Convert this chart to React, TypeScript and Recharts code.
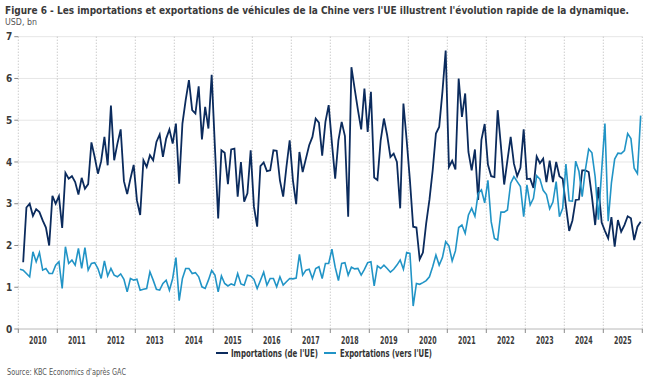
import { LineChart, Line, XAxis, YAxis, CartesianGrid } from 'recharts'

// Monthly values, USD bn, one row per year (Jan..Dec)
const years = [2010, 2011, 2012, 2013, 2014, 2015, 2016, 2017, 2018, 2019, 2020, 2021, 2022, 2023, 2024, 2025]

const imports: (number | null)[][] = [
  [null, 1.6, 2.91, 3.0, 2.71, 2.87, 2.8, 2.6, 2.43, 2.0, 3.19, 3.0],
  [3.18, 2.42, 3.74, 3.6, 3.66, 3.52, 3.22, 3.62, 3.36, 3.47, 4.47, 4.12],
  [3.72, 4.02, 4.6, 3.92, 5.35, 4.04, 4.44, 4.78, 3.54, 3.23, 3.6, 3.93],
  [3.08, 2.73, 4.04, 3.88, 4.16, 4.04, 4.48, 4.66, 4.12, 4.56, 4.78, 4.44],
  [4.92, 3.48, 4.92, 5.48, 5.96, 5.24, 5.16, 5.81, 4.54, 5.32, 4.8, 6.09],
  [4.35, 2.65, 4.28, 4.22, 3.47, 4.3, 4.32, 3.17, 4.0, 3.05, 3.25, 4.28],
  [2.93, 2.45, 3.9, 3.99, 3.78, 3.8, 4.28, 4.27, 3.56, 3.17, 3.88, 4.52],
  [3.56, 2.99, 4.24, 3.76, 4.08, 4.4, 4.6, 5.04, 4.94, 4.15, 4.96, 5.36],
  [4.45, 3.6, 4.52, 4.96, 4.62, 2.69, 6.27, 5.75, 5.25, 4.78, 5.76, 4.72],
  [5.68, 3.63, 3.57, 4.52, 5.04, 4.64, 4.12, 4.2, 4.0, 2.89, 5.4, 4.52],
  [3.56, 2.45, 2.43, 1.67, 1.83, 2.53, 3.09, 3.8, 4.68, 4.84, 5.68, 6.67],
  [3.88, 4.03, 3.82, 6.0, 5.08, 5.64, 4.24, 3.8, 4.3, 3.09, 4.53, 4.91],
  [3.94, 3.66, 3.64, 5.24, 4.38, 3.46, 4.04, 4.6, 3.96, 3.66, 3.86, 4.78],
  [3.59, 3.6, 3.38, 4.13, 3.97, 4.08, 3.52, 4.03, 3.52, 4.0, 3.66, 3.6],
  [2.95, 2.35, 2.6, 3.09, 3.1, 3.8, 3.8, 3.76, 3.17, 2.49, 3.4, 2.55],
  [2.35, 2.17, 2.68, 1.97, 2.61, 2.33, 2.49, 2.7, 2.65, 2.13, 2.45, 2.57],
]

const exportsEU: number[][] = [
  [1.43, 1.41, 1.33, 1.25, 1.85, 1.61, 1.83, 1.41, 1.45, 1.33, 1.33, 1.53],
  [1.61, 0.97, 1.97, 1.57, 1.65, 1.53, 1.93, 1.45, 1.95, 1.41, 1.57, 1.59],
  [1.45, 1.21, 1.63, 1.27, 1.45, 1.29, 1.25, 1.32, 1.19, 0.89, 1.21, 1.17],
  [1.19, 0.93, 0.95, 0.97, 1.37, 1.17, 0.95, 0.93, 1.09, 1.17, 0.93, 1.21],
  [1.71, 0.68, 1.21, 1.45, 1.45, 1.33, 1.35, 1.25, 1.01, 0.97, 1.17, 1.4],
  [1.29, 0.89, 1.27, 1.09, 1.03, 1.08, 1.05, 1.33, 1.08, 1.05, 1.29, 1.27],
  [1.19, 0.97, 1.16, 1.36, 1.05, 1.21, 1.21, 1.01, 1.25, 1.05, 1.13, 1.21],
  [1.2, 1.22, 1.79, 1.29, 1.41, 1.43, 1.21, 1.45, 1.49, 1.21, 1.57, 1.57],
  [1.91, 1.48, 1.16, 1.57, 1.59, 1.29, 1.48, 1.44, 1.45, 1.29, 1.43, 1.59],
  [1.61, 1.03, 1.51, 1.45, 1.53, 1.45, 1.36, 1.43, 1.53, 1.65, 1.43, 1.83],
  [1.81, 0.55, 1.09, 1.07, 1.11, 1.16, 1.25, 1.49, 1.77, 1.53, 1.71, 2.09],
  [1.99, 1.63, 1.87, 2.43, 2.49, 2.29, 2.73, 2.89, 2.7, 3.25, 3.33, 3.02],
  [3.56, 2.57, 2.17, 2.13, 2.8, 2.8, 2.85, 3.49, 3.65, 3.53, 3.41, 2.69],
  [3.45, 2.97, 3.13, 3.67, 3.59, 3.32, 3.22, 2.88, 3.04, 3.53, 2.69, 2.89],
  [3.95, 3.07, 3.06, 4.02, 3.78, 3.17, 3.82, 4.31, 4.22, 3.64, 2.62, 3.8],
  [4.92, 2.58, 3.5, 4.07, 4.21, 4.2, 4.27, 4.68, 4.56, 3.85, 3.72, 5.11],
]

const yTicks = [0, 1, 2, 3, 4, 5, 6, 7]

const NAVY = '#0b2b5d'
const BLUE = '#2194c6'
const FONT = "'Liberation Sans Narrow', 'DejaVu Sans Condensed', 'Open Sans', Arial, sans-serif"

const data = years.flatMap((_, yi) =>
  imports[yi].map((v, m) => ({ t: yi * 12 + m + 0.5, imp: v, exp: exportsEU[yi][m] }))
)
const yearTicks = years.map((_, i) => i * 12).concat(years.length * 12)

function YearTick(props: any) {
  const { x, y, payload } = props
  const i = payload.value / 12
  if (i >= years.length) return <g />
  return (
    <text x={x + 19.5} y={y + 11} textAnchor="middle" fontFamily={FONT} fontSize={11} fontWeight={700} fill="#3a3a3a" textLength={17.5} lengthAdjust="spacingAndGlyphs">
      {years[i]}
    </text>
  )
}

export default function App() {
  return (
    <div style={{ position: 'absolute', left: 0, top: 0, width: 652, height: 385, background: '#fff' }}>
      <LineChart width={652} height={385} data={data} margin={{ top: 36.7, right: 9.7, left: 0, bottom: 0 }}>
        <CartesianGrid horizontal vertical={false} stroke="#e6e6e6" />
        <CartesianGrid horizontal={false} vertical stroke="#b5b5b5" strokeDasharray="1 2" />
        <XAxis
          type="number"
          dataKey="t"
          domain={[0, years.length * 12]}
          ticks={yearTicks}
          interval={0}
          height={56}
          tickSize={4}
          tickMargin={0}
          tickLine={{ stroke: '#8a8a8a' }}
          axisLine={{ stroke: '#c4c4c4' }}
          tick={<YearTick />}
        />
        <YAxis
          type="number"
          domain={[0, 7]}
          ticks={yTicks}
          interval={0}
          width={18.3}
          tickSize={4}
          tickMargin={2}
          axisLine={false}
          tickLine={{ stroke: '#8a8a8a' }}
          tick={{ fontFamily: FONT, fontSize: 10, fontWeight: 700, fill: '#3a3a3a' }}
        />
        <Line type="linear" dataKey="imp" stroke={NAVY} strokeWidth={1.8} dot={false} isAnimationActive={false} />
        <Line type="linear" dataKey="exp" stroke={BLUE} strokeWidth={1.6} dot={false} isAnimationActive={false} />
      </LineChart>
      <svg width={652} height={385} style={{ position: 'absolute', left: 0, top: 0, pointerEvents: 'none' }}>
        <text x={5} y={14} fontFamily={FONT} fontSize={10.2} fontWeight={700} fill="#3a3a3a" textLength={624} lengthAdjust="spacingAndGlyphs">
          Figure 6 - Les importations et exportations de véhicules de la Chine vers l'UE illustrent l'évolution rapide de la dynamique.
        </text>
        <text x={5} y={25} fontFamily={FONT} fontSize={9.5} fill="#555" textLength={32} lengthAdjust="spacingAndGlyphs">
          USD, bn
        </text>
        <line x1={216} x2={228} y1={353} y2={353} stroke={NAVY} strokeWidth={2} />
        <text x={231} y={357} fontFamily={FONT} fontSize={10.5} fontWeight={600} fill="#333" textLength={87} lengthAdjust="spacingAndGlyphs">
          Importations (de l'UE)
        </text>
        <line x1={324} x2={336} y1={353} y2={353} stroke={BLUE} strokeWidth={2} />
        <text x={340} y={357} fontFamily={FONT} fontSize={10.5} fontWeight={600} fill="#333" textLength={92} lengthAdjust="spacingAndGlyphs">
          Exportations (vers l'UE)
        </text>
        <text x={7} y={375} fontFamily={FONT} fontSize={8.5} fill="#555" textLength={119} lengthAdjust="spacingAndGlyphs">
          Source: KBC Economics d'après GAC
        </text>
      </svg>
    </div>
  )
}
